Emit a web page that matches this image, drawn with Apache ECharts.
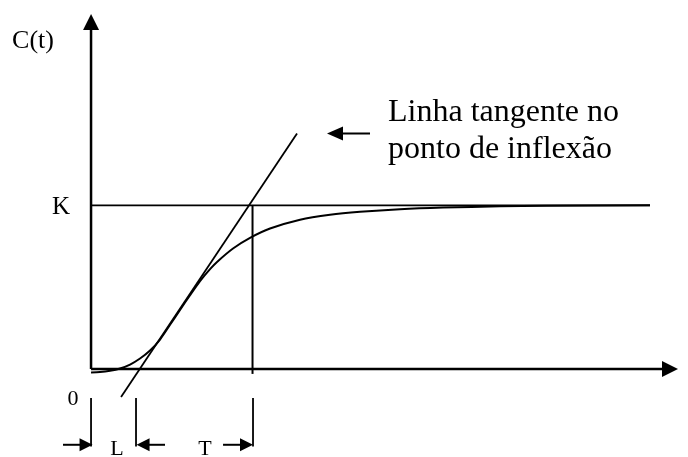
<!DOCTYPE html>
<html>
<head>
<meta charset="utf-8">
<script src="https://cdn.jsdelivr.net/npm/echarts@6/dist/echarts.min.js"></script>
<style>
html,body{margin:0;padding:0;background:#fff}
#main{width:688px;height:457px}
</style>
</head>
<body>
<div id="main"></div>
<script>
// resposta ao degrau: t em unidades de L, C(t) em unidades de K
const curveT = [0, 0.202, 0.427, 0.651, 0.876, 1.100, 1.325, 1.549, 1.774, 1.998, 2.223, 2.447, 2.672, 2.829, 3.188, 3.570, 4.019, 4.693, 5.366, 6.040, 6.938, 7.904, 9.184, 10.194, 12.551];
const curveC = [-0.021, -0.019, -0.011, 0.003, 0.027, 0.064, 0.113, 0.180, 0.270, 0.361, 0.451, 0.537, 0.610, 0.654, 0.736, 0.801, 0.858, 0.912, 0.942, 0.960, 0.976, 0.986, 0.994, 0.998, 1.0];
const tangentT = [0.674, 4.625];
const tangentC = [-0.171, 1.439];
const K = 1;
const kLineEnd = 12.55;
const tEnd = 3.626;          // L + T
const tEndBottom = -0.03;
const markerT = [0, 1.01, 3.637];   // 0, L, L+T
const markerC = [-0.177, -0.473];
const arrowC = -0.463;
const arrowFrom = [-0.629, 1.661, 2.964];
const arrowTo = [-0.112, 1.168, 3.491];
const noteArrowT = [6.264, 5.478];
const noteArrowC = 1.439;
const axisEnd = [13, 2.12];
const xRange = [-1, 13];

const chart = echarts.init(document.getElementById('main'));

function seg(data, w, extra) {
    return Object.assign({
        type: 'line',
        data: data,
        symbol: 'none',
        clip: false,
        silent: true,
        animation: false,
        lineStyle: {color: '#000', width: w}
    }, extra || {});
}

function arrowTo2(data, w, size, rot) {
    return seg(data, w, {
        showSymbol: true,
        symbol: function (v, p) { return p.dataIndex === 1 ? 'triangle' : 'none'; },
        symbolSize: size,
        symbolRotate: rot,
        itemStyle: {color: '#000'}
    });
}

const series = [];
// eixos
series.push(arrowTo2([[0, 0], [0, axisEnd[1]]], 2.5, [16, 16], 0));
series.push(arrowTo2([[0, 0], [axisEnd[0], 0]], 2.5, [16, 16], -90));
// curva
series.push(seg(curveT.map((t, i) => [t, curveC[i]]), 2, {smooth: 0.25}));
// linha tangente
series.push(seg(tangentT.map((t, i) => [t, tangentC[i]]), 1.8));
// nivel K
series.push(seg([[0, K], [kLineEnd, K]], 1.8));
// vertical em L+T
series.push(seg([[tEnd, K], [tEnd, tEndBottom]], 2));
// marcas abaixo do eixo
markerT.forEach(function (t) {
    series.push(seg([[t, markerC[0]], [t, markerC[1]]], 1.8));
});
// setas 0, L e T
arrowFrom.forEach(function (x0, i) {
    const x1 = arrowTo[i];
    series.push(arrowTo2([[x0, arrowC], [x1, arrowC]], 2, [13, 13], x1 > x0 ? -90 : 90));
});
series.push(arrowTo2([[noteArrowT[0], noteArrowC], [noteArrowT[1], noteArrowC]], 2, [14, 16], 90));

const serif = '"Liberation Serif", "Times New Roman", serif';
function txt(text, x, y, size, align) {
    return {
        type: 'text', x: x, y: y, silent: true,
        style: {text: text, fontFamily: serif, fontSize: size, fill: '#000',
                align: align || 'center', verticalAlign: 'middle', lineHeight: 37}
    };
}

const option = {
    backgroundColor: '#fff',
    animation: false,
    grid: {left: 46.5, top: 22, right: 18, bottom: 88},
    xAxis: {
        type: 'value', min: xRange[0], max: xRange[1],
        axisLine: {show: false}, axisTick: {show: false}, axisLabel: {show: false}, splitLine: {show: false}
    },
    yAxis: {
        type: 'value', min: 0, max: axisEnd[1],
        axisLine: {show: false}, axisTick: {show: false}, axisLabel: {show: false}, splitLine: {show: false}
    },
    graphic: [
        txt('C(t)', 33, 41, 26),
        txt('K', 61, 207, 25),
        txt('0', 73, 399, 22),
        txt('L', 117, 449, 22),
        txt('T', 205, 449, 22),
        txt('Linha tangente no\nponto de inflexão', 388, 131, 32, 'left')
    ],
    series: series
};
chart.setOption(option);
</script>
</body>
</html>
